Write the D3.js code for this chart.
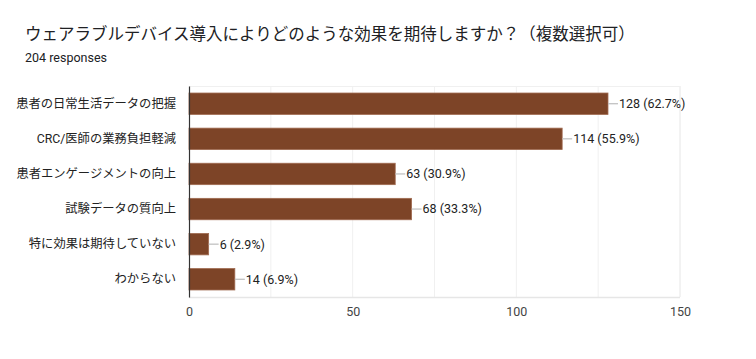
<!DOCTYPE html>
<html><head><meta charset="utf-8">
<script src="https://cdn.jsdelivr.net/npm/d3@7"></script>
<style>
body{margin:0;background:#fff;}
svg{font-family:Roboto,"Noto Sans CJK JP",sans-serif;}
</style></head>
<body><svg id="c" width="756" height="359"></svg>
<script>
const title = "ウェアラブルデバイス導入によりどのような効果を期待しますか？（複数選択可）";
const subtitle = "204 responses";
const categories = ["患者の日常生活データの把握","CRC/医師の業務負担軽減","患者エンゲージメントの向上","試験データの質向上","特に効果は期待していない","わからない"];
const counts = [128,114,63,68,6,14];
const percents = ["62.7%","55.9%","30.9%","33.3%","2.9%","6.9%"];
const xTicks = [0,50,100,150];
const gridTicks = [25,50,75,100,125,150];

const svg = d3.select("#c");
const m = {left:189, right:680, top:86, bottom:297};
const x = d3.scaleLinear().domain([0,150]).range([m.left,m.right]);
const y = d3.scaleBand().domain(categories).range([m.top,m.bottom]).paddingInner(0.39).paddingOuter(0.2);
const ff = 'Roboto,"Noto Sans CJK JP",sans-serif';

svg.append("text").attr("x",25).attr("y",40).attr("font-size",16.5).attr("fill","#202124").text(title);
svg.append("text").attr("x",25).attr("y",62).attr("font-size",12.5).attr("fill","#202124").text(subtitle);

// grid
svg.append("g").selectAll("line").data(gridTicks).join("line")
  .attr("x1",d=>x(d)).attr("x2",d=>x(d)).attr("y1",m.top).attr("y2",m.bottom)
  .attr("stroke",d=>d===150?"#e6e6e6":"#f0f0f0").attr("stroke-width",1);
svg.append("line").attr("x1",m.left).attr("x2",m.right).attr("y1",m.top+0.5).attr("y2",m.top+0.5).attr("stroke","#f0f0f0");
svg.append("line").attr("x1",m.left).attr("x2",m.right).attr("y1",m.bottom+0.5).attr("y2",m.bottom+0.5).attr("stroke","#e6e6e6").attr("stroke-width",1.5);

// bars
const g = svg.append("g");
g.selectAll("rect").data(categories).join("rect")
  .attr("x",x(0)).attr("y",d=>y(d)).attr("width",(d,i)=>x(counts[i])-x(0)).attr("height",y.bandwidth())
  .attr("fill","#7d4427").attr("stroke","#a06a50").attr("stroke-width",0.8);

// leader lines and labels
g.selectAll("line.lead").data(categories).join("line").attr("class","lead")
  .attr("x1",(d,i)=>x(counts[i])).attr("x2",(d,i)=>x(counts[i])+10)
  .attr("y1",d=>y(d)+y.bandwidth()/2).attr("y2",d=>y(d)+y.bandwidth()/2)
  .attr("stroke","#bdbdbd").attr("stroke-width",1.2);
g.selectAll("text.val").data(categories).join("text").attr("class","val")
  .attr("x",(d,i)=>x(counts[i])+11).attr("y",d=>y(d)+y.bandwidth()/2).attr("dy","0.35em")
  .attr("font-size",12.5).attr("fill","#222").text((d,i)=>`${counts[i]} (${percents[i]})`);

// y axis
const ya = svg.append("g").attr("transform",`translate(${m.left},0)`).call(d3.axisLeft(y).tickSize(0).tickPadding(13));
ya.select(".domain").attr("stroke","#333").attr("stroke-width",1.2);
ya.selectAll("text").attr("font-size",12.3).attr("fill","#222").attr("font-family",ff);

// x axis
const xa = svg.append("g").attr("transform",`translate(0,${m.bottom})`).call(d3.axisBottom(x).tickValues(xTicks).tickSize(0).tickPadding(10));
xa.select(".domain").remove();
xa.selectAll("text").attr("font-size",12.5).attr("fill","#444").attr("font-family",ff);
</script></body></html>
